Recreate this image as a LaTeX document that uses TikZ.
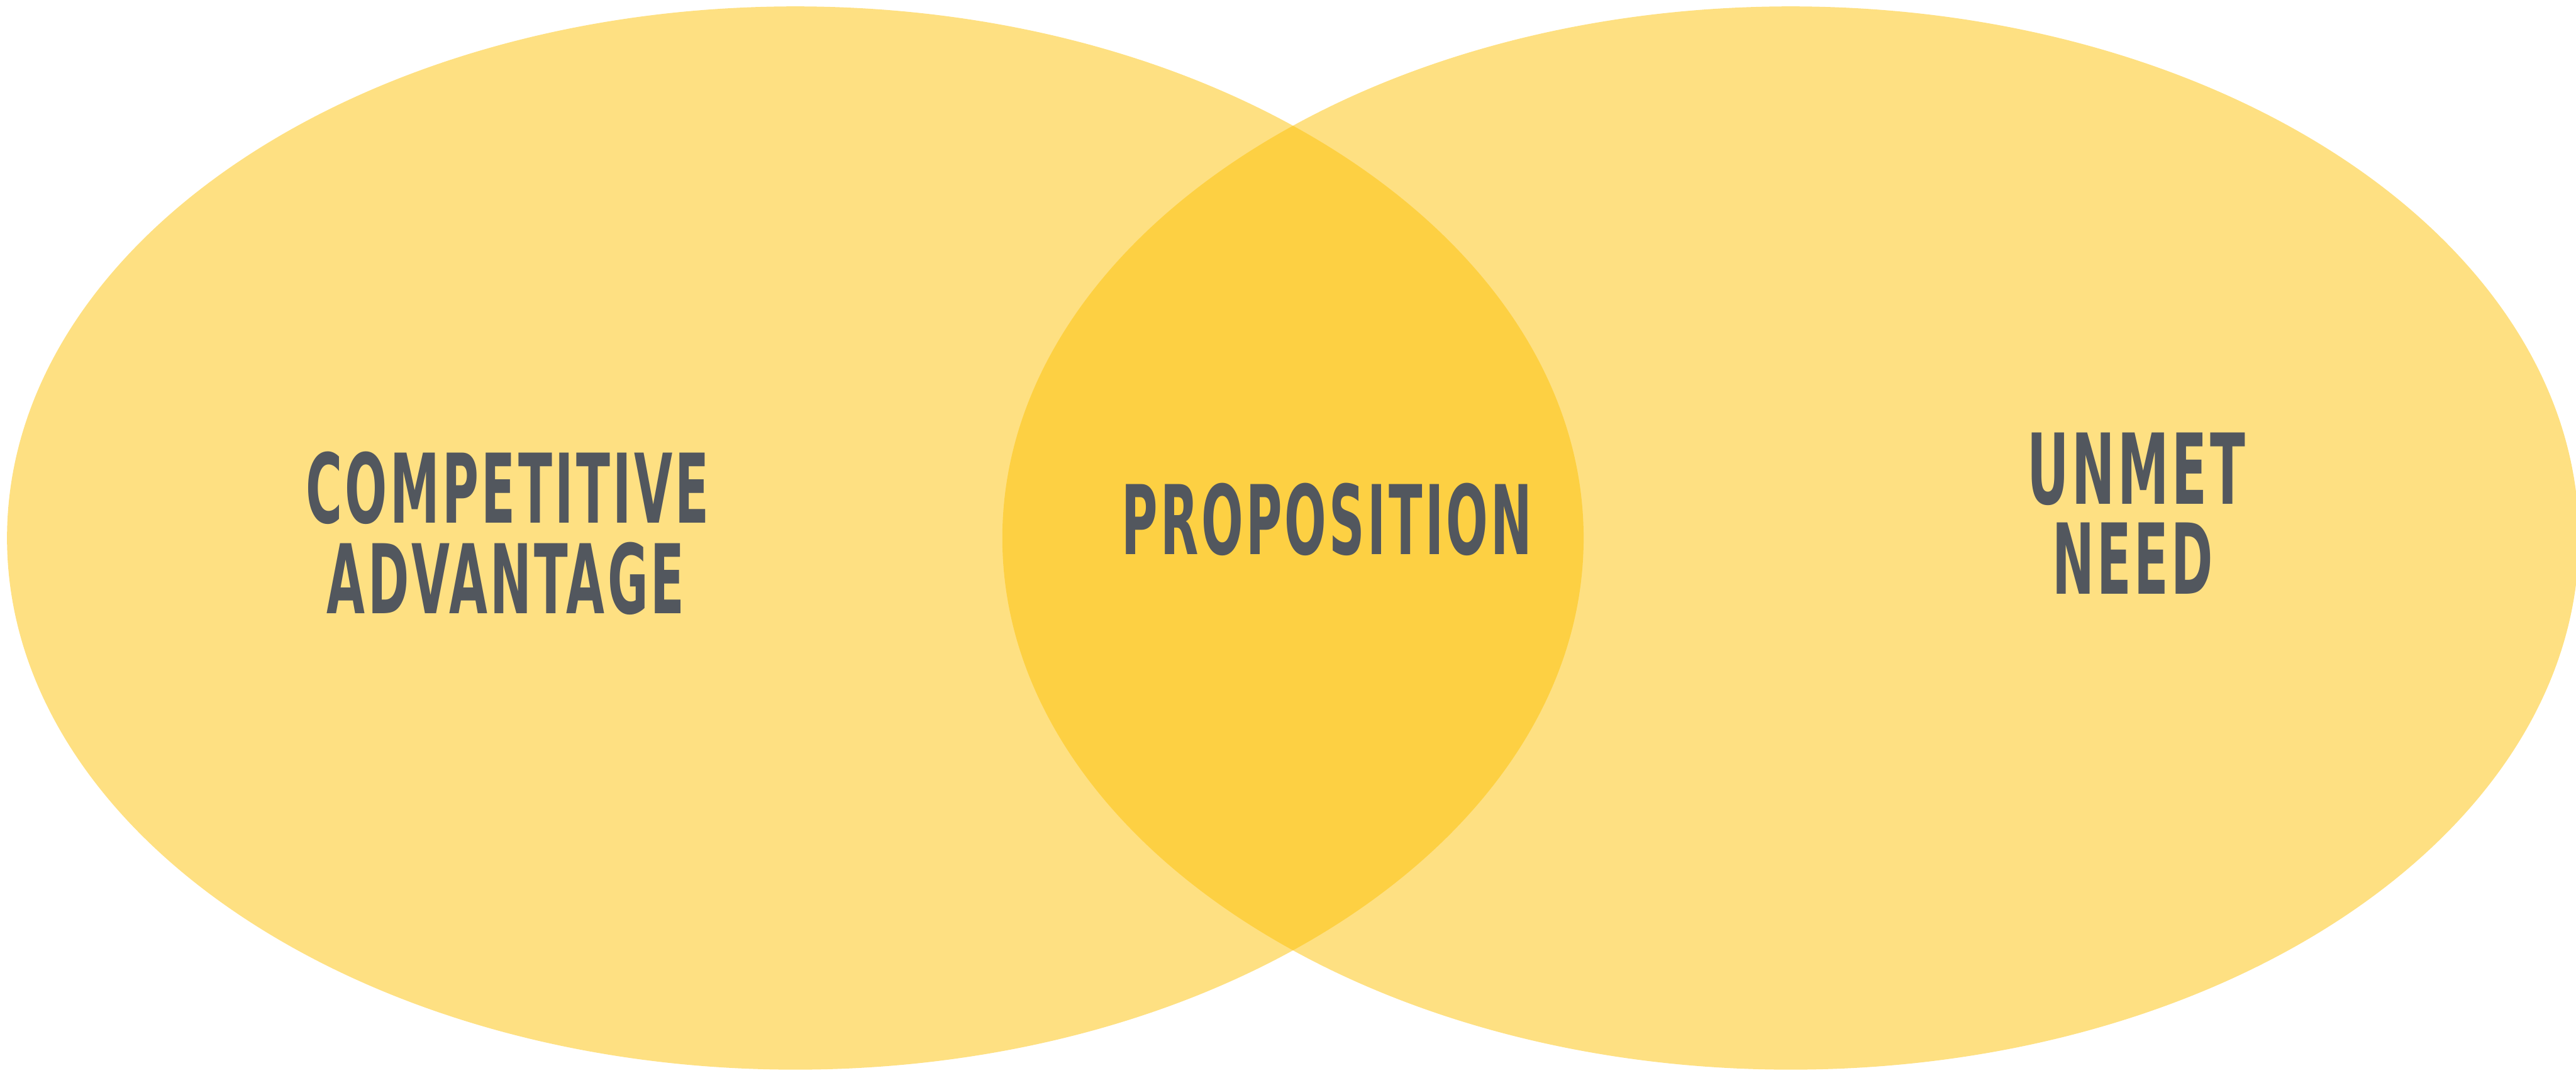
\documentclass[tikz,border=0pt]{standalone}
\usepackage{fontspec}
\usepackage{graphicx}
\newfontfamily\labelfont[LetterSpace=5]{DejaVuSansCondensed-Bold.ttf}
\definecolor{vennfill}{RGB}{253,193,5}
\definecolor{labelgray}{RGB}{82,87,94}
% one line of a label, squeezed to a given ink width and cap height
\newcommand{\vennline}[2]{\resizebox{#1}{1.22cm}{\labelfont #2}}
\tikzset{
  circlearea/.style={fill=vennfill, fill opacity=0.5, draw=none},
  vennlabel/.style={inner sep=0pt, outer sep=0pt, anchor=base, text=labelgray}
}
\begin{document}
\begin{tikzpicture}
\useasboundingbox (0,0) rectangle (44.05,18.34);
\clip (0,0) rectangle (44.05,18.34);
% the two sets
\fill[circlearea] (13.60,9.14) ellipse [x radius=13.48, y radius=9.09];
\fill[circlearea] (30.62,9.14) ellipse [x radius=13.48, y radius=9.09];
% labels
\node[vennlabel] (compA) at (8.68,9.40) {\vennline{6.90cm}{COMPETITIVE}};
\node[vennlabel] (compB) at (8.65,7.85) {\vennline{6.12cm}{ADVANTAGE}};
\node[vennlabel] (prop)  at (22.69,8.86) {\vennline{7.02cm}{PROPOSITION}};
\node[vennlabel] (needA) at (36.53,9.72) {\vennline{3.72cm}{UNMET}};
\node[vennlabel] (needB) at (36.47,8.18) {\vennline{2.75cm}{NEED}};
\end{tikzpicture}
\end{document}
